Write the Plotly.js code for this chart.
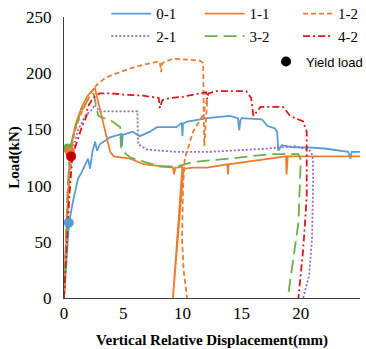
<!DOCTYPE html>
<html>
<head>
<meta charset="utf-8">
<script src="https://cdn.plot.ly/plotly-3.0.1.min.js"></script>
<style>html,body{margin:0;padding:0;background:#fff;}#chart{width:366px;height:349px;}</style>
</head>
<body>
<div id="chart"></div>
<script>
// Series names
const names = ['0-1', '2-1', '1-1', '3-2', '1-2', '4-2'];

// 0-1 (blue, solid)
const x01 = [0, 0.2, 0.42, 0.8, 1.18, 1.5, 1.77, 2.03, 2.2, 2.4, 2.62, 2.8, 3.04, 3.9, 4.85, 4.9, 4.95, 5.8, 6.4, 7.26, 7.85, 9.5, 9.95, 10.0, 10.05, 10.4, 12.1, 14.0, 14.7, 14.8, 14.9, 15.0, 16.7, 17.2, 17.8, 18.0, 18.1, 18.4, 19.3, 20.6, 22.0, 24.0, 24.2, 24.3, 24.8, 25];
const y01 = [0, 30, 67, 88, 106, 112, 119, 124, 115, 130, 139, 131, 137, 143, 146, 135, 145, 148, 144, 148, 152, 152, 156, 144, 155, 157, 160, 162, 160, 149, 158, 160, 159, 153, 151, 148, 131, 136, 134, 134, 133, 130, 124, 130, 130, 130];

// 2-1 (purple, dotted)
const x21 = [0, 0.2, 0.4, 0.7, 1.2, 1.8, 2.3, 2.6, 3.0, 6.2, 6.25, 7.0, 9.5, 12.3, 14.0, 17.2, 19.5, 20.7, 21.0, 21.05, 20.95, 20.7, 20.2];
const y21 = [0, 50, 100, 130, 150, 162, 167, 172, 166, 166, 137, 132, 130, 130, 131, 133, 135, 132, 127, 106, 52, 20, 0];

// 1-1 (orange, solid)
const x11 = [0, 0.15, 0.3, 0.45, 0.7, 1.0, 1.5, 2.0, 2.6, 3.9, 4.2, 5.6, 6.7, 8.1, 9.2, 9.3, 9.4, 9.6, 10.0, 9.2, 10.1, 10.9, 12.1, 13.8, 13.85, 13.9, 18.1, 18.75, 18.8, 18.85, 18.9, 24.8, 25];
const y11 = [0, 40, 80, 115, 140, 155, 170, 180, 187, 130, 126, 124, 119, 117, 116, 110, 116, 116, 117, 0, 115, 116, 116, 119, 110, 119, 125, 126, 110, 124, 126, 126, 126];

// 3-2 (green, long dash)
const x32 = [0, 0.1, 0.3, 0.5, 0.9, 1.4, 2.0, 2.5, 2.9, 4.1, 4.75, 4.8, 4.9, 5.6, 8.1, 9.5, 10.9, 14.0, 17.4, 19.8, 20.0, 19.8, 19.3, 18.9];
const y32 = [0, 30, 95, 133, 150, 165, 176, 182, 162, 157, 152, 135, 131, 125, 117, 117, 121, 124, 128, 128, 123, 67, 31, 0];

// 1-2 (orange, short dash)
const x12 = [0, 0.15, 0.35, 0.55, 0.9, 1.4, 1.9, 2.3, 2.8, 3.5, 4.5, 5.5, 6.5, 7.8, 8.1, 8.2, 8.3, 9.2, 10.5, 11.5, 11.75, 11.85, 12.1, 11.7, 10.9, 10.2, 10.05, 9.97, 10.1, 10.4];
const y12 = [0, 45, 100, 128, 148, 163, 175, 183, 190, 196, 200, 204, 207, 210, 210, 201, 209, 213, 212, 211, 209, 135, 177, 162, 148, 124, 97, 52, 25, 0];

// 4-2 (red, dash-dot)
const x42 = [0, 0.2, 0.45, 0.7, 1.1, 1.5, 1.9, 2.0, 2.45, 3.0, 4.0, 5.0, 6.7, 8.0, 8.1, 8.3, 9.0, 10.0, 12.0, 12.1, 12.2, 12.9, 15.4, 15.8, 16.0, 16.6, 18.5, 19.1, 20.2, 20.5, 20.5, 20.2, 19.8];
const y42 = [0, 40, 90, 126, 140, 152, 162, 170, 178, 182, 182, 181, 180, 178, 169, 176, 178, 179, 183, 177, 182, 184, 184, 178, 162, 170, 170, 162, 157, 148, 90, 43, 0];

// Yield load points (one per specimen)
const yieldX = [0.4, 0.3, 0.5, 0.6];
const yieldY = [67, 133, 130, 126];
const yieldColors = ['#5B9BD5', '#70AD47', '#ED7D31', '#C00000'];

// Axis ticks
const xTicks = [0, 5, 10, 15, 20, 25];
const yTicks = [0, 50, 100, 150, 200, 250];

const serif = 'Liberation Serif';

function line(x, y, name, color, dash, legend) {
  return {x: x, y: y, name: name, type: 'scatter', mode: 'lines',
    line: {color: color, width: 1.8, dash: dash}, legend: legend, hoverinfo: 'skip'};
}

const traces = [
  line(x01, y01, names[0], '#5B9BD5', 'solid', 'legend'),
  line(x21, y21, names[1], '#9467CF', '2px,2px', 'legend'),
  line(x11, y11, names[2], '#ED7D31', 'solid', 'legend2'),
  line(x32, y32, names[3], '#70AD47', '13px,6px', 'legend2'),
  line(x12, y12, names[4], '#ED7D31', '5px,3px', 'legend3'),
  line(x42, y42, names[5], '#D7191C', '7px,3px,2px,3px', 'legend3'),
  {x: yieldX, y: yieldY, type: 'scatter', mode: 'markers', showlegend: false,
    marker: {color: yieldColors, size: 10}, hoverinfo: 'skip'},
  {x: [null], y: [null], type: 'scatter', mode: 'markers', name: 'Yield load',
    marker: {color: '#000000', size: 10}, legend: 'legend4'}
];

const legBase = {bgcolor: 'rgba(0,0,0,0)', borderwidth: 0, orientation: 'v',
  xanchor: 'left', yanchor: 'top', font: {family: serif, size: 15, color: '#000'}, tracegroupgap: 0, itemwidth: 40};

const layout = {
  width: 366, height: 349,
  margin: {l: 64, r: 0, t: 17, b: 51, autoexpand: false},
  paper_bgcolor: '#fff', plot_bgcolor: '#fff',
  showlegend: true,
  xaxis: {domain: [0, 0.9801], range: [0, 25], tickvals: xTicks, ticktext: xTicks.map(String), showgrid: false, zeroline: false,
    showline: true, linecolor: '#404040', linewidth: 1, ticks: '',
    tickfont: {family: serif, size: 17, color: '#000'},
    title: {text: 'Vertical Relative Displacement(mm)', font: {family: serif, size: 15, color: '#000', weight: 'bold'}, standoff: 12}},
  yaxis: {range: [0, 250], tickvals: yTicks, ticktext: yTicks.map(String), showgrid: false, zeroline: false,
    showline: true, linecolor: '#404040', linewidth: 1, ticks: '', ticklabelstandoff: 8,
    tickfont: {family: serif, size: 17, color: '#000'},
    title: {text: 'Load(kN)', font: {family: serif, size: 15, color: '#000', weight: 'bold'}, standoff: 2}},
  legend: Object.assign({}, legBase, {x: 0.140, y: 1.07}),
  legend2: Object.assign({}, legBase, {x: 0.449, y: 1.07}),
  legend3: Object.assign({}, legBase, {x: 0.775, y: 1.07, itemwidth: 30}),
  legend4: Object.assign({}, legBase, {x: 0.669, y: 0.895, itemwidth: 30, font: {family: 'Liberation Sans', size: 13, color: '#000'}})
};

Plotly.newPlot('chart', traces, layout, {staticPlot: true, displayModeBar: false});
</script>
</body>
</html>
